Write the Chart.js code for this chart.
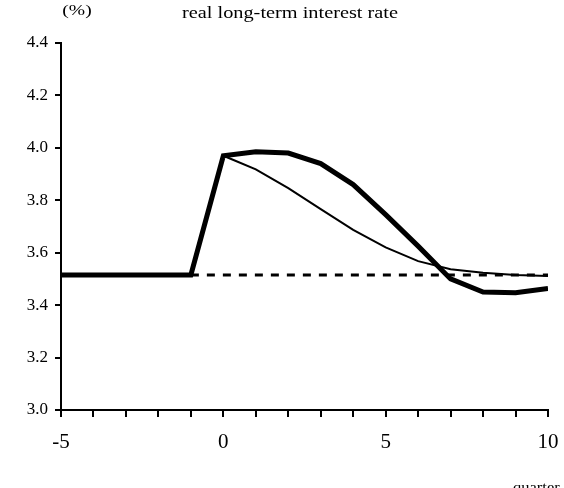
<!DOCTYPE html>
<html>
<head>
<meta charset="utf-8">
<script src="https://cdn.jsdelivr.net/npm/chart.js@4.4.1/dist/chart.umd.min.js"></script>
<style>
    html, body { margin: 0; padding: 0; background: #fff; }
    #chart { display: block; }
</style>
</head>
<body>
<canvas id="chart" width="564" height="488"></canvas>
<script>
const quarters = [-5, -4, -3, -2, -1, 0, 1, 2, 3, 4, 5, 6, 7, 8, 9, 10];
const thickRate = [3.515, 3.515, 3.515, 3.515, 3.515, 3.97, 3.985, 3.98, 3.94, 3.86, 3.745, 3.625, 3.50, 3.45, 3.447, 3.464];
const thinRate = [3.515, 3.515, 3.515, 3.515, 3.515, 3.97, 3.918, 3.846, 3.766, 3.687, 3.62, 3.568, 3.537, 3.524, 3.515, 3.511];
const baselineQuarters = [-1, 10];
const baselineRate = [3.515, 3.515];
const xLabels = [-5, 0, 5, 10];

const serif = "'Liberation Serif', 'Times New Roman', serif";

const toPoints = (xs, ys) => xs.map((x, i) => ({ x: x, y: ys[i] }));

// the original text is a bit stretched sideways, so scale x when drawing
function wideText(c, text, x, y, size, stretch, align) {
    c.save();
    c.font = size + 'px ' + serif;
    c.textAlign = align;
    c.translate(x, y);
    c.scale(stretch, 1);
    c.fillText(text, 0, 0);
    c.restore();
}

const extraText = {
    id: 'extraText',
    afterDraw(chart) {
        const c = chart.ctx;
        c.save();
        c.fillStyle = '#000';
        c.textBaseline = 'alphabetic';
        wideText(c, '(%)', 77, 15, 14, 1.4, 'center');
        wideText(c, 'real long-term interest rate', 290, 18, 16, 1.27, 'center');
        wideText(c, 'quarter', 513, 492, 15, 1.1, 'left');
        c.restore();
    }
};

new Chart(document.getElementById('chart'), {
    type: 'line',
    data: {
        datasets: [
            {
                data: toPoints(quarters, thickRate),
                borderColor: '#000',
                borderWidth: 5,
                pointRadius: 0,
                order: 1
            },
            {
                data: toPoints(quarters, thinRate),
                borderColor: '#000',
                borderWidth: 2,
                pointRadius: 0,
                order: 2
            },
            {
                data: toPoints(baselineQuarters, baselineRate),
                borderColor: '#000',
                borderWidth: 3,
                borderDash: [8, 8],
                pointRadius: 0,
                order: 3
            }
        ]
    },
    options: {
        responsive: false,
        animation: false,
        layout: { padding: { top: 43, right: 16, left: 0, bottom: 0 } },
        plugins: {
            legend: { display: false },
            tooltip: { enabled: false }
        },
        scales: {
            x: {
                type: 'linear',
                min: -5,
                max: 10,
                afterFit: s => {
                    s.height = 78;
                    s.paddingLeft = 0;
                    s.paddingRight = 0;
                },
                afterBuildTicks: s => { s.ticks = quarters.map(v => ({ value: v })); },
                grid: {
                    drawOnChartArea: false,
                    drawTicks: true,
                    tickLength: 7,
                    color: '#000',
                    lineWidth: 2
                },
                border: { display: true, color: '#000', width: 2 },
                ticks: {
                    autoSkip: false,
                    maxRotation: 0,
                    padding: 13,
                    color: '#000',
                    font: { family: serif, size: 21 },
                    callback: v => xLabels.includes(v) ? String(v) : ''
                }
            },
            y: {
                min: 3.0,
                max: 4.4,
                afterFit: s => {
                    s.width = 61;
                    s.paddingTop = 0;
                    s.paddingBottom = 0;
                },
                grid: {
                    drawOnChartArea: false,
                    drawTicks: true,
                    tickLength: 6,
                    color: '#000',
                    lineWidth: 2
                },
                border: { display: true, color: '#000', width: 2 },
                ticks: {
                    stepSize: 0.2,
                    padding: 7,
                    color: '#000',
                    font: { family: serif, size: 17 },
                    callback: v => v.toFixed(1)
                }
            }
        }
    },
    plugins: [extraText]
});
</script>
</body>
</html>
